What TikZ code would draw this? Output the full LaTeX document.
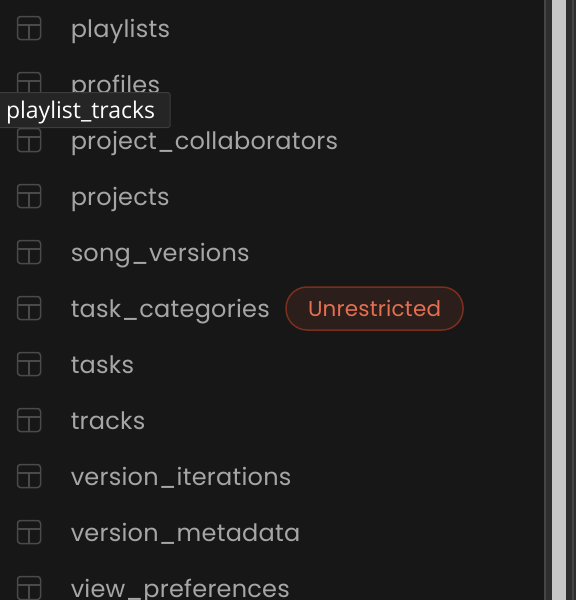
\documentclass[tikz,border=0pt]{standalone}
\usepackage{fontspec}
\setmainfont[LetterSpace=1.0]{Poppins}
\newfontfamily\tipfont{Open Sans}
\usetikzlibrary{positioning}
\definecolor{panelbg}{HTML}{171717}
\definecolor{rowtext}{HTML}{A6A6A6}
\definecolor{iconline}{HTML}{4A4A4A}
\definecolor{tipbg}{HTML}{252525}
\definecolor{tipline}{HTML}{3C3C3C}
\definecolor{badgebg}{HTML}{2C1E1A}
\definecolor{badgeline}{HTML}{7A2F1E}
\definecolor{badgetext}{HTML}{E46F52}
\definecolor{barbg}{HTML}{2E2E2E}
\definecolor{barline}{HTML}{444444}
\definecolor{barthumb}{HTML}{C8C8C8}
\tikzset{
    tableicon/.style = {draw=iconline, line width=1.5pt, rectangle, rounded corners=3pt, minimum width=23pt, minimum height=23pt, inner sep=0pt},
    rowname/.style = {text=rowtext, font=\fontsize{24}{30}\selectfont, inner sep=0pt, text height=19pt, text depth=6pt},
    tooltip/.style = {draw=tipline, fill=tipbg, text=white, line width=1pt, rounded corners=1.5pt, font=\tipfont\fontsize{23}{26}\selectfont, inner xsep=8pt, inner ysep=0pt, text width=156pt, minimum height=35pt, text height=19pt, text depth=3pt},
    badge/.style = {draw=badgeline, fill=badgebg, text=badgetext, line width=1.5pt, rounded corners=21pt, font=\fontsize{21.5}{28}\selectfont, inner sep=0pt, minimum width=177pt, minimum height=43pt}
}
\begin{document}
\begin{tikzpicture}[x=1pt,y=-1pt,line width=1pt]
    \useasboundingbox (0,0) rectangle (576,600);
    % Fondo
    \fill [panelbg] (0,0) rectangle (576,600);
    % Barra
    \fill [barbg] (544,0) rectangle (576,600);
    \fill [barline] (544,0) rectangle (546,600);
    \fill [barline] (572,0) rectangle (574,600);
    \fill [barthumb] (552,0) rectangle (566,600);
    % Filas
    \foreach \tablename [count=\i from 0] in {playlists,profiles,project\_collaborators,projects,song\_versions,task\_categories,tasks,tracks,version\_iterations,version\_metadata,view\_preferences}{
        \node [tableicon] (icon\i) at (29,{28+56*\i}) {};
        \draw [iconline, line width=1.5pt] ([yshift=3pt]icon\i.west) -- ([yshift=3pt]icon\i.east);
        \draw [iconline, line width=1.5pt] ([yshift=3pt]icon\i.center) -- (icon\i.south);
        \node [rowname, right=29pt of icon\i, yshift=-3pt] (name\i) {\tablename};
    }
    % Etiqueta
    \node [badge, right=15pt of name5, yshift=2.5pt] (unrestricted) {Unrestricted};
    % Tooltip
    \node [tooltip] (tip) at (84,110) {playlist\_tracks};
\end{tikzpicture}
\end{document}
